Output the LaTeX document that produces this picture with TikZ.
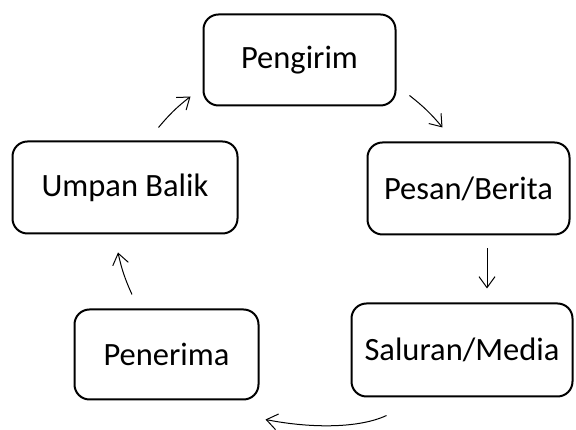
\documentclass[tikz,border=0pt]{standalone}
\usepackage{fontspec}
\setmainfont{Carlito}
\usetikzlibrary{arrows.meta}
\begin{document}
\begin{tikzpicture}[x=1pt,y=1pt,
  stage/.style={draw, line width=2pt, rounded corners=15pt, fill=white,
    font=\fontsize{32.5}{38}\selectfont, inner sep=0pt, align=center},
  flow/.style={line width=1pt, -{Straight Barb[length=11pt,width=16pt,line width=1pt]}}]
  \useasboundingbox (0,0) rectangle (576,430);
  % stages of the communication cycle
  \node[stage, minimum width=192pt, minimum height=91pt] (pg) at (299.5,370) {Pengirim};
  \node[stage, minimum width=202pt, minimum height=92pt] (pb) at (468.5,241.5) {Pesan/Berita};
  \node[stage, minimum width=221pt, minimum height=93pt] (sm) at (462,80) {Saluran/Media};
  \node[stage, minimum width=184pt, minimum height=90pt] (pn) at (166.5,75.5) {Penerima};
  \node[stage, minimum width=225pt, minimum height=92pt] (ub) at (125,242.5) {Umpan Balik};
  % connectors between stages
  \draw[flow] ([shift={(13,11)}]pg.south east) to[bend left=6] ([shift={(76,14)}]pb.north west);
  \draw[flow] ([shift={(18.5,-13)}]pb.south) -- ([shift={(25,14)}]sm.north);
  \draw[flow] ([shift={(36,-18)}]sm.south west) .. controls +(-30,-14) and +(40,-8) .. ([shift={(6,-19)}]pn.south east);
  \draw[flow] ([shift={(-34.5,14)}]pn.north) to[bend left=6] ([shift={(-7,-18)}]ub.south);
  \draw[flow] ([shift={(-80,13)}]ub.north east) to[bend left=6] ([shift={(-12,10)}]pg.south west);
\end{tikzpicture}
\end{document}
